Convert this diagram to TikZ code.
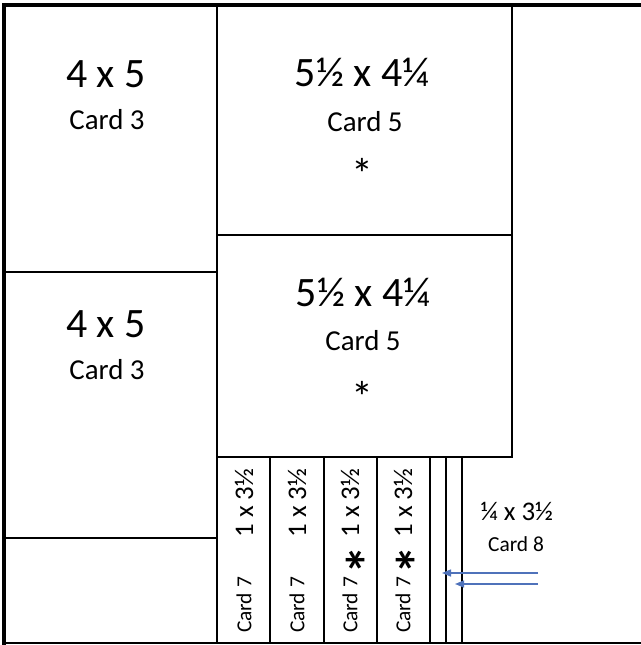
\documentclass[tikz,border=0pt]{standalone}
\usepackage{fontspec}
\setmainfont{Carlito}
\usetikzlibrary{arrows.meta}

\definecolor{arrowblue}{RGB}{79,114,186}

\tikzset{
  cutline/.style={line width=1.3bp, line cap=rect},
  border/.style={line width=4bp},
  bigtext/.style={inner sep=0pt, font=\fontsize{42}{48}\selectfont},
  midtext/.style={inner sep=0pt, font=\fontsize{29}{34}\selectfont},
  sizetext/.style={inner sep=0pt, font=\fontsize{27}{32}\selectfont},
  smalltext/.style={inner sep=0pt, font=\fontsize{21.5}{26}\selectfont},
  startext/.style={inner sep=0pt, font=\fontsize{44}{50}\selectfont},
  boldstar/.style={inner sep=0pt, rotate=90, font=\bfseries\fontsize{58}{64}\selectfont},
  pointer/.style={arrowblue, line width=1.4bp, -{Triangle[length=9bp,width=7bp]}}
}

\begin{document}
\begin{tikzpicture}[x=1bp,y=-1bp]
\useasboundingbox (0,0) rectangle (641,645);

% Dimensions (pixels of the sheet)
\def\lc{217}   % right edge of left column
\def\rc{512}   % right edge of card 5 boxes
\def\mh{235}   % line between the two card 5 boxes
\def\sb{457}   % top of the strips
\def\bt{643}   % bottom edge

% Outer edges
\draw[border] (2,5) -- (641,5);
\draw[border] (4,3) -- (4,645);
\draw[cutline] (4,\bt) -- (641,\bt);

% Left column
\draw[cutline] (\lc,5) -- (\lc,\bt);
\draw[cutline] (4,272) -- (\lc,272);
\draw[cutline] (4,538) -- (\lc,538);

% Card 5 boxes
\draw[cutline] (\rc,5) -- (\rc,\sb) -- (\lc,\sb);
\draw[cutline] (\lc,\mh) -- (\rc,\mh);

% Strips
\foreach \x in {270,324,377,430,446,462}
  \draw[cutline] (\x,\sb) -- (\x,\bt);

% Labels of the left column
\node[bigtext] (sizeA) at (106,74) {4 x 5};
\node[midtext] (cardA) at (107,120) {Card 3};
\node[bigtext] (sizeB) at (106,324) {4 x 5};
\node[midtext] (cardB) at (107,370) {Card 3};

% Labels of the card 5 boxes
\node[bigtext] (sizeC) at (362,72) {5½ x 4¼};
\node[midtext] (cardC) at (365,122) {Card 5};
\node[startext] (starC) at (362,174) {*};
\node[bigtext] (sizeD) at (363,292) {5½ x 4¼};
\node[midtext] (cardD) at (363,341) {Card 5};
\node[startext] (starD) at (362,397) {*};

% Labels of the strips
\foreach \x [count=\i] in {244,297,350,403} {
  \node[sizetext,rotate=90] (strip\i) at (\x,503) {1 x 3½};
  \node[smalltext,rotate=90] (card\i) at (\x,605) {Card 7};
}
\node[boldstar] (star3) at (367,560) {*};
\node[boldstar] (star4) at (417,560) {*};

% Card 8
\node[sizetext] (sizeE) at (517,511) {¼ x 3½};
\node[smalltext] (cardE) at (516,544) {Card 8};

% Pointers to the thin strips
\coordinate (tipA) at (442,573);
\coordinate (tipB) at (455,584);
\coordinate (tailA) at (538,573);
\coordinate (tailB) at (538,584);
\draw[pointer] (tailA) -- (tipA);
\draw[pointer] (tailB) -- (tipB);

\end{tikzpicture}
\end{document}
